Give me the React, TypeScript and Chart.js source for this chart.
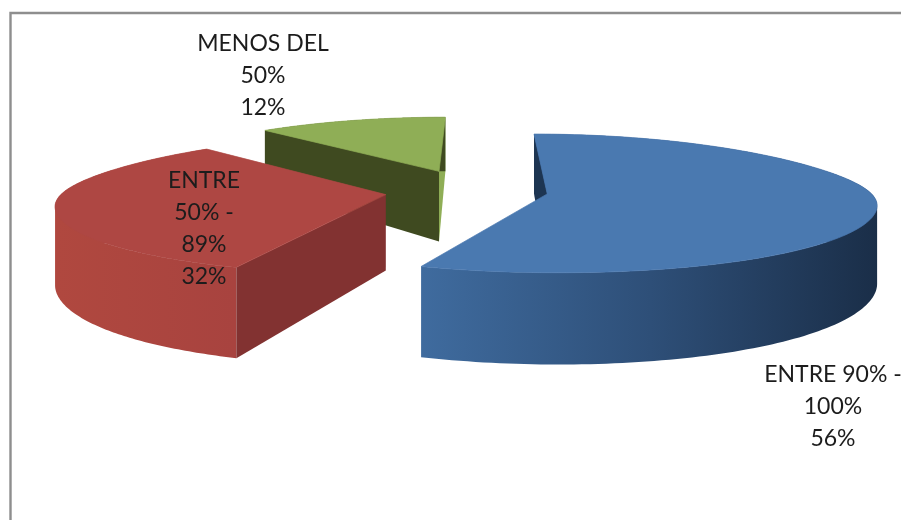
import React, { useEffect, useRef } from "react";
import { Chart, registerables } from "chart.js";

Chart.register(...registerables);

const categories = ["ENTRE 90% - 100%", "ENTRE 50% - 89%", "MENOS DEL 50%"];
const values = [56, 32, 12];
const labelLines = [["ENTRE 90% -", "100%"], ["ENTRE", "50% -", "89%"], ["MENOS DEL", "50%"]];
const explode = [73, 90, 104];
const topColors = ["#4a79b0", "#ae4743", "#8fae56"];

const PLANE_R = 322;
const SQUASH = 0.213;
const FONT = "23px Lato, sans-serif";

const labelPos = [
  { x: 833, y: 375 },
  { x: 204, y: 181 },
  { x: 263, y: 44 },
];
const LINE_H = 32;

const wedge3d = {
  id: "wedge3d",
  beforeDatasetsDraw(chart: any) {
    const { ctx } = chart;
    const meta = chart.getDatasetMeta(0);
    const order = [2, 1, 0];

    // frame
    ctx.save();
    ctx.strokeStyle = "#8e8e8e";
    ctx.lineWidth = 2.4;
    ctx.beginPath();
    ctx.moveTo(10.5, 520);
    ctx.lineTo(10.5, 13);
    ctx.lineTo(901, 13);
    ctx.stroke();
    ctx.restore();

    for (const i of order) {
      const el = meta.data[i];
      const a0 = el.startAngle;
      const a1 = el.endAngle;
      const mid = (a0 + a1) / 2;
      const off = el.options.offset;
      const ox = Math.cos(mid) * off;
      const oy = Math.sin(mid) * off;

      const pt = (X: number, Y: number, down: boolean) => {
        const blend = Math.tanh(Y / 100);
        const kx = 0.18 - 0.045 * blend;
        const ky = 0.14 - 0.02 * blend;
        const px = 1 / (1 - (kx * Y) / PLANE_R);
        const py = 1 / (1 - (ky * Y) / PLANE_R);
        const depth = down ? 75 + 0.05 * Y : 0;
        return [el.x + X * px, el.y + Y * SQUASH * py + depth];
      };
      const rim = (a: number, down: boolean) =>
        pt(ox + Math.cos(a) * PLANE_R, oy + Math.sin(a) * PLANE_R, down);
      const apex = (down: boolean) => pt(ox, oy, down);

      const trace = (pts: number[][]) => {
        pts.forEach((q, n) => (n ? ctx.lineTo(q[0], q[1]) : ctx.moveTo(q[0], q[1])));
        ctx.closePath();
      };
      const poly = (pts: number[][], fill: any, seam = false) => {
        ctx.beginPath();
        trace(pts);
        ctx.fillStyle = fill;
        ctx.fill();
        if (seam) {
          ctx.strokeStyle = fill;
          ctx.lineWidth = 0.7;
          ctx.stroke();
        }
      };

      const n = 160;
      const angles: number[] = [];
      for (let s = 0; s <= n; s++) angles.push(a0 + ((a1 - a0) * s) / n);
      const top = angles.map((a) => rim(a, false));
      const bot = angles.map((a) => rim(a, true));

      let wall: any;
      let startWall: any = null;
      let endWall: any = null;
      if (i === 0) {
        wall = ctx.createLinearGradient(423, 0, 878, 0);
        wall.addColorStop(0, "#3f6b9e");
        wall.addColorStop(0.5, "#2e4f78");
        wall.addColorStop(1, "#1a2e48");
        startWall = "#1d3552";
      } else if (i === 1) {
        wall = ctx.createLinearGradient(57, 0, 234, 0);
        wall.addColorStop(0, "#b0483f");
        wall.addColorStop(1, "#a8433f");
        startWall = "#823231";
      } else {
        wall = "#3f4a20";
        startWall = "#3f4a20";
        endWall = "#8fae56";
      }

      if (endWall) poly([rim(a1, false), apex(false), apex(true), rim(a1, true)], endWall);

      // outer wall: one path of same-wound quads, so it fills solid and without seams
      ctx.beginPath();
      for (let s = 0; s < n; s++) {
        const q = [top[s], top[s + 1], bot[s + 1], bot[s]];
        let area = 0;
        q.forEach((p, m) => {
          const r = q[(m + 1) % 4];
          area += p[0] * r[1] - r[0] * p[1];
        });
        trace(area < 0 ? q.reverse() : q);
      }
      ctx.fillStyle = wall;
      ctx.fill("nonzero");

      poly([rim(a0, false), apex(false), apex(true), rim(a0, true)], startWall);
      poly([apex(false), ...top], el.options.backgroundColor, true);
    }

    // labels
    ctx.save();
    ctx.font = FONT;
    ctx.fillStyle = "#1c1c1c";
    ctx.textAlign = "center";
    ctx.textBaseline = "middle";
    values.forEach((v, i) => {
      const lines = [...labelLines[i], `${v}%`];
      lines.forEach((t, j) => ctx.fillText(t, labelPos[i].x, labelPos[i].y + j * LINE_H));
    });
    ctx.restore();
    return false;
  },
};

export default function App() {
  const ref = useRef<HTMLCanvasElement>(null);
  useEffect(() => {
    document.body.style.margin = "0";
    const chart = new Chart(ref.current as HTMLCanvasElement, {
      type: "pie",
      data: {
        labels: categories,
        datasets: [{ data: values, backgroundColor: topColors, offset: explode, borderWidth: 0 }],
      },
      options: {
        responsive: false,
        animation: false,
        events: [],
        layout: { padding: { left: 49, right: 0, top: 0, bottom: 138 } },
        plugins: { legend: { display: false }, tooltip: { enabled: false } },
      },
      plugins: [wedge3d],
    } as any);
    return () => chart.destroy();
  }, []);
  return <canvas ref={ref} width={901} height={520} style={{ display: "block", background: "#fff" }} />;
}
